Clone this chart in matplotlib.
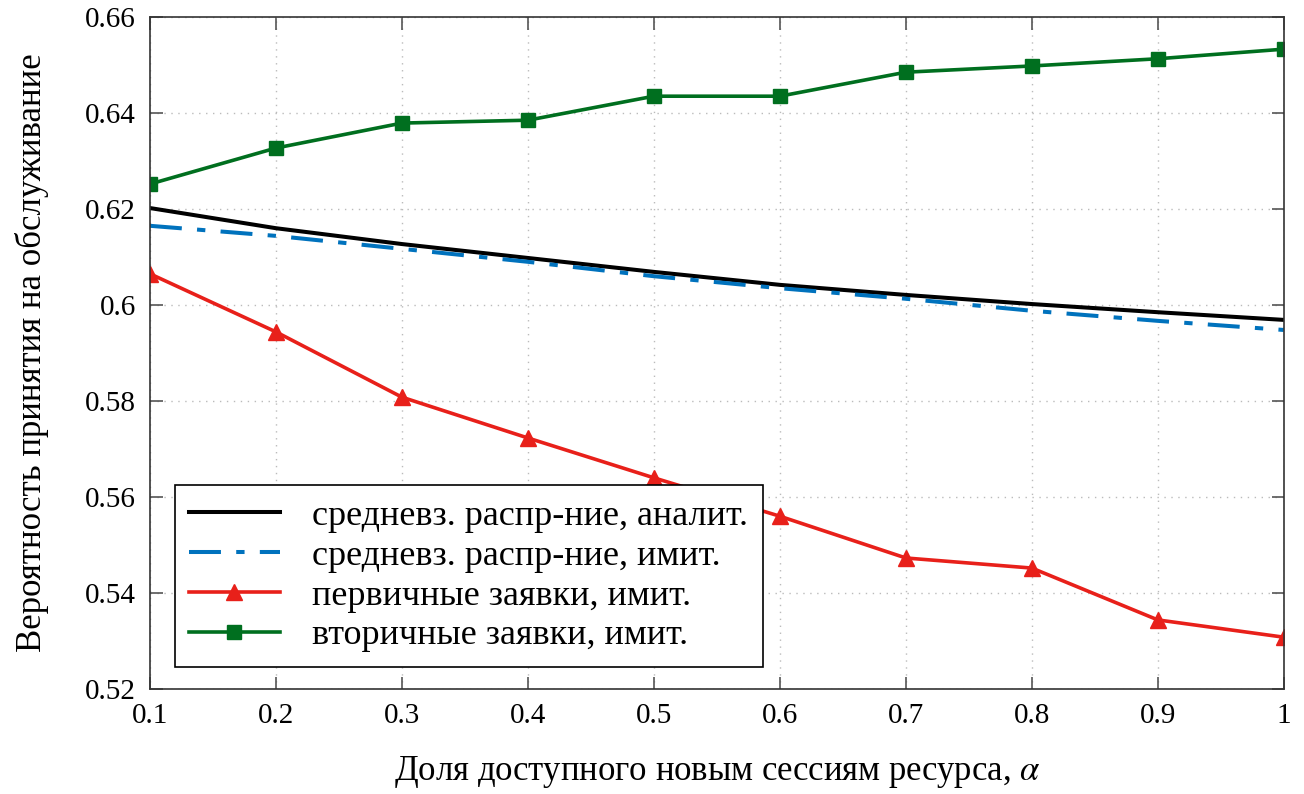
import matplotlib
matplotlib.use("Agg")
import matplotlib.pyplot as plt

plt.rcParams["font.family"] = ["Liberation Serif", "DejaVu Serif"]
plt.rcParams["mathtext.fontset"] = "stix"
plt.rcParams["lines.scale_dashes"] = False

# ── Data ──────────────────────────────────────────────────────────────────────
alpha = [0.1, 0.2, 0.3, 0.4, 0.5, 0.6, 0.7, 0.8, 0.9, 1.0]
avg_analytic = [0.6202, 0.6160, 0.6127, 0.6098, 0.6069, 0.6042, 0.6021, 0.6002, 0.5985, 0.5969]
avg_sim      = [0.6165, 0.6144, 0.6117, 0.6090, 0.6060, 0.6035, 0.6013, 0.5988, 0.5967, 0.5948]
primary_sim  = [0.6065, 0.5944, 0.5808, 0.5723, 0.5640, 0.5560, 0.5473, 0.5452, 0.5344, 0.5308]
secondary_sim = [0.6252, 0.6327, 0.6379, 0.6385, 0.6435, 0.6435, 0.6485, 0.6498, 0.6513, 0.6533]

yticks = [0.52, 0.54, 0.56, 0.58, 0.60, 0.62, 0.64, 0.66]
ytick_labels = ["0.52", "0.54", "0.56", "0.58", "0.6", "0.62", "0.64", "0.66"]
xtick_labels = ["0.1", "0.2", "0.3", "0.4", "0.5", "0.6", "0.7", "0.8", "0.9", "1"]

# ── Plot ──────────────────────────────────────────────────────────────────────
fig = plt.figure(figsize=(13.04, 7.94), dpi=100)
ax = fig.add_axes([0.115, 0.1322, 0.8695, 0.8464])

ax.plot(alpha, avg_analytic, color="black", lw=2.9,
        label="средневз. распр-ние, аналит.")
ax.plot(alpha, avg_sim, color="#0072bd", lw=2.9, linestyle=(0, (23, 11, 6, 11)),
        label="средневз. распр-ние, имит.")
ax.plot(alpha, primary_sim, color="#e8201a", lw=2.6, marker="^", ms=11,
        label="первичные заявки, имит.")
ax.plot(alpha, secondary_sim, color="#006f1f", lw=2.6, marker="s", ms=9.5,
        label="вторичные заявки, имит.")

ax.set_xlim(0.1, 1.0)
ax.set_ylim(0.52, 0.66)
ax.set_xticks(alpha)
ax.set_xticklabels(xtick_labels)
ax.set_yticks(yticks)
ax.set_yticklabels(ytick_labels)
ax.tick_params(direction="in", length=9, width=1.2, color="#555555",
               labelsize=21, top=True, right=True, pad=10)
ax.grid(True, linestyle=(0, (1, 4)), color="#bbbbbb", lw=1)
for s in ax.spines.values():
    s.set_color("#333333")
    s.set_linewidth(1.2)

ax.set_xlabel(r"Доля доступного новым сессиям ресурса, $\alpha$", fontsize=25, labelpad=18)
ax.set_ylabel("Вероятность принятия на обслуживание", fontsize=25, labelpad=26)

leg = ax.legend(loc="lower left", bbox_to_anchor=(0.022, 0.033), borderaxespad=0,
                fontsize=26, fancybox=False, edgecolor="black", framealpha=1,
                handlelength=2.5, handletextpad=0.9, borderpad=0.4,
                labelspacing=0.18)
leg.get_frame().set_linewidth(1.2)

fig.savefig("out.png", dpi=100, facecolor="white")
